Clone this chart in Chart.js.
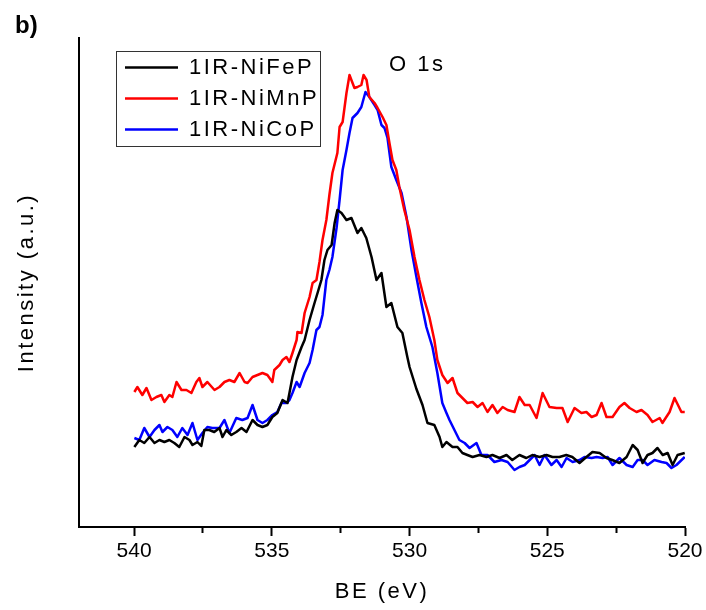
<!DOCTYPE html>
<html>
<head>
<meta charset="utf-8">
<script src="https://cdn.jsdelivr.net/npm/chart.js@4/dist/chart.umd.min.js"></script>
<style>
  html, body { margin: 0; padding: 0; background: #ffffff; }
  #wrap { width: 706px; height: 610px; }
</style>
</head>
<body>
<div id="wrap"><canvas id="c" width="706" height="610"></canvas></div>
<script>
// ---- data (binding energy in eV, intensity in arbitrary units) ----
const seriesNames = ['1IR-NiFeP', '1IR-NiMnP', '1IR-NiCoP'];
const peakLabel = 'O 1s';
const panelLabel = 'b)';
const xMajorTicks = [540, 535, 530, 525, 520];
const xMinorTicks = [537.5, 532.5, 527.5, 522.5];

const fenpBE = [539.99,539.81,539.63,539.44,539.26,539.08,538.90,538.72,538.54,538.36,538.17,537.99,537.88,537.70,537.56,537.45,537.27,537.09,536.90,536.79,536.65,536.47,536.29,536.10,535.92,535.70,535.52,535.34,535.16,534.98,534.80,534.61,534.43,534.36,534.25,534.10,533.92,533.81,533.63,533.45,533.34,533.20,533.09,532.98,532.83,532.72,532.62,532.47,532.29,532.11,531.89,531.75,531.57,531.38,531.20,531.02,530.84,530.66,530.44,530.26,530.08,530.00,529.75,529.53,529.35,529.10,528.91,528.81,528.66,528.44,528.26,528.08,527.90,527.71,527.46,527.21,526.99,526.73,526.48,526.27,526.01,525.76,525.54,525.28,525.03,524.81,524.56,524.31,524.09,523.83,523.58,523.36,523.10,522.85,522.64,522.38,522.12,521.90,521.72,521.54,521.36,521.18,521.00,520.81,520.63,520.45,520.27,520.01];
const fenpInt = [80,87,84,90,84,87,85,87,84,80,90,87,82,85,81,97,97,95,99,90,97,92,95,99,95,107,102,100,102,110,114,127,124,134,150,167,180,187,207,224,234,247,267,277,282,304,317,314,307,309,294,299,289,270,247,254,220,224,200,194,170,160,138,122,104,102,90,80,85,80,80,74,72,70,72,70,72,69,72,67,72,69,72,70,72,70,70,72,70,64,70,75,74,69,67,64,70,82,77,64,72,74,79,72,74,62,72,74];

const mnpBE = [539.99,539.88,539.70,539.55,539.37,539.19,539.01,538.90,538.72,538.61,538.46,538.28,538.10,537.92,537.74,537.63,537.52,537.34,537.08,536.90,536.72,536.54,536.36,536.17,535.99,535.88,535.70,535.52,535.34,535.16,534.98,534.91,534.72,534.61,534.47,534.36,534.25,534.10,534.07,533.92,533.81,533.63,533.52,533.38,533.27,533.16,533.02,532.91,532.80,532.62,532.54,532.43,532.29,532.18,532.00,531.89,531.75,531.67,531.56,531.46,531.27,531.16,530.98,530.84,530.73,530.62,530.48,530.37,530.19,530.00,529.82,529.64,529.46,529.28,529.10,528.99,528.81,528.62,528.44,528.26,528.08,527.90,527.71,527.53,527.35,527.17,526.99,526.81,526.62,526.44,526.19,526.01,525.82,525.64,525.39,525.17,524.92,524.66,524.45,524.26,524.01,523.76,523.58,523.39,523.21,523.03,522.85,522.63,522.38,522.20,522.01,521.76,521.58,521.36,521.18,520.92,520.82,520.56,520.38,520.13,520.01];
const mnpInt = [135,140,132,139,127,130,132,125,132,130,145,137,137,134,145,149,140,145,137,140,145,147,145,154,145,144,150,152,154,152,145,157,162,167,170,165,174,187,195,194,214,230,244,247,265,287,307,332,354,374,400,405,434,452,439,440,442,452,447,430,424,419,410,402,384,367,357,340,317,297,270,247,227,210,187,167,152,144,149,134,129,124,125,120,124,115,122,114,120,117,115,130,122,122,109,134,120,119,119,105,119,114,115,110,112,124,110,110,120,124,119,115,117,112,105,109,104,115,129,115,115];

const copBE = [539.99,539.81,539.63,539.44,539.26,539.08,538.97,538.79,538.61,538.43,538.25,538.06,537.88,537.70,537.52,537.34,537.16,536.90,536.72,536.54,536.29,536.07,535.88,535.70,535.52,535.34,535.16,534.98,534.80,534.65,534.47,534.36,534.25,534.10,533.99,533.81,533.63,533.52,533.38,533.27,533.16,533.02,532.91,532.80,532.65,532.54,532.43,532.29,532.18,532.07,531.89,531.75,531.60,531.46,531.27,531.16,531.02,530.91,530.80,530.66,530.48,530.29,530.11,529.93,529.75,529.57,529.39,529.17,528.99,528.81,528.66,528.55,528.37,528.19,528.00,527.82,527.57,527.39,527.17,526.92,526.66,526.44,526.19,526.01,525.82,525.64,525.46,525.28,525.10,524.85,524.66,524.48,524.30,524.08,523.83,523.65,523.39,523.21,522.99,522.81,522.63,522.38,522.12,521.90,521.72,521.54,521.36,521.11,520.85,520.67,520.49,520.31,520.01];
const copInt = [89,87,99,90,97,102,95,100,97,90,99,92,104,87,94,100,99,99,107,94,109,107,109,122,107,104,107,112,115,124,124,127,134,145,140,154,164,177,197,200,212,247,257,270,299,327,357,377,394,409,414,420,435,430,422,417,402,399,389,360,347,334,310,277,250,224,200,180,154,124,114,107,97,87,84,79,84,72,72,65,67,65,57,60,62,67,72,62,72,62,67,60,69,65,67,70,69,70,69,70,62,69,62,60,67,67,62,67,65,64,59,62,70];

// ---- build datasets ----
const FONT = '"Liberation Sans", Arial, Helvetica, sans-serif';
function pts(be, val) { return be.map((x, i) => ({ x: x, y: val[i] })); }
const seriesColors = ['#000000', '#ff0000', '#0000ff'];
const seriesData = [pts(fenpBE, fenpInt), pts(mnpBE, mnpInt), pts(copBE, copInt)];

const datasets = seriesNames.map((name, i) => ({
  label: name,
  data: seriesData[i],
  borderColor: seriesColors[i],
  backgroundColor: seriesColors[i],
  borderWidth: 2.5,
  pointRadius: 0,
  tension: 0,
  fill: false,
  borderJoinStyle: 'round'
}));

const decor = {
  id: 'decor',
  afterLayout(chart) {
    const lg = chart.legend, a = chart.chartArea;
    if (lg) { lg.left = a.left + 37; lg.top = a.top + 9.5; }
  },
  beforeDraw(chart) { chart.ctx.letterSpacing = '2.5px'; },
  afterDatasetsDraw(chart) { chart.ctx.letterSpacing = '0px'; },
  afterDraw(chart) {
    const ctx = chart.ctx;
    ctx.save();
    ctx.strokeStyle = '#333333';
    ctx.lineWidth = 1;
    ctx.strokeRect(116.5, 51.5, 204, 95);
    ctx.fillStyle = '#000000';
    ctx.textAlign = 'left';
    ctx.textBaseline = 'alphabetic';
    ctx.letterSpacing = '2.5px';
    ctx.font = '22px ' + FONT;
    ctx.fillText(peakLabel, 389, 71);
    ctx.letterSpacing = '0px';
    ctx.font = 'bold 24px ' + FONT;
    ctx.fillText(panelLabel, 15, 33);
    ctx.restore();
  }
};

new Chart(document.getElementById('c'), {
  type: 'line',
  data: { datasets: datasets },
  plugins: [decor],
  options: {
    responsive: false,
    animation: false,
    devicePixelRatio: 1,
    layout: { padding: { top: 38, right: 21, bottom: 0, left: 0 } },
    plugins: {
      tooltip: { enabled: false },
      legend: {
        position: 'chartArea',
        align: 'start',
        labels: {
          usePointStyle: true,
          pointStyle: 'line',
          pointStyleWidth: 53,
          padding: 9,
          color: '#000000',
          font: { family: FONT, size: 22 }
        }
      }
    },
    scales: {
      x: {
        type: 'linear',
        reverse: true,
        min: 520,
        max: 542,
        afterFit(scale) { scale.height = 83; },
        afterBuildTicks(scale) {
          scale.ticks = xMajorTicks.concat(xMinorTicks).sort((a, b) => a - b).map(v => ({ value: v }));
        },
        grid: {
          display: true,
          drawOnChartArea: false,
          drawTicks: true,
          tickLength: 9,
          tickWidth: 2,
          tickColor: '#000000',
          tickBorderDash: (c) => (c.tick && xMajorTicks.indexOf(c.tick.value) < 0) ? [5, 40] : []
        },
        border: { display: true, color: '#000000', width: 2 },
        ticks: {
          z: 1,
          autoSkip: false,
          maxRotation: 0,
          padding: 3,
          color: '#000000',
          font: { family: FONT, size: 21 },
          callback: (v) => xMajorTicks.indexOf(v) >= 0 ? String(v) : ''
        },
        title: {
          display: true,
          text: 'BE (eV)',
          color: '#000000',
          font: { family: FONT, size: 22 },
          padding: { top: 0, bottom: 5 }
        }
      },
      y: {
        min: 0,
        max: 489,
        afterFit(scale) { scale.width = 79; },
        grid: { display: false },
        border: { display: true, color: '#000000', width: 2 },
        ticks: { display: false },
        title: {
          display: true,
          text: 'Intensity (a.u.)',
          color: '#000000',
          font: { family: FONT, size: 22 },
          padding: { top: 14, bottom: 0 }
        }
      }
    }
  }
});
</script>
</body>
</html>
